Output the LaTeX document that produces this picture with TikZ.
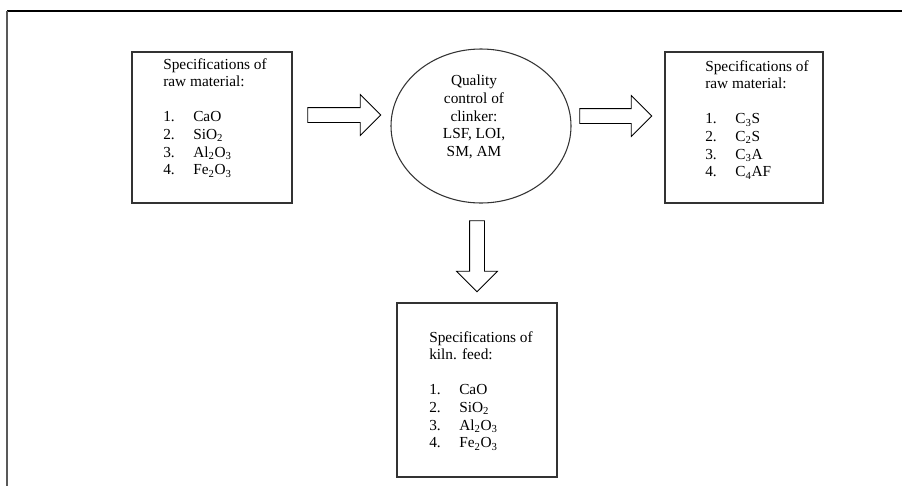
\documentclass[tikz,border=0pt]{standalone}
\usepackage{fontspec}
\setmainfont{Liberation Serif}
\usetikzlibrary{shapes.geometric, shapes.arrows, positioning}
\tikzset{
  specbox/.style={draw=black!80, line width=0.8pt}, % the three boxes
  spectext/.style={anchor=north west, inner sep=0pt, align=left, font=\fontsize{11.5}{13.2}\selectfont}, % text set in a box
  blockarrow/.style={single arrow, draw=black, line width=0.6pt, inner xsep=0pt, inner ysep=5.25pt,
    single arrow head extend=9.75pt, single arrow tip angle=90}, % hollow arrows
}
\newcommand{\specitem}[2]{\makebox[22.5pt][l]{#1}#2}

\begin{document}
\begin{tikzpicture}[x=0.75pt, y=-0.75pt]
    \useasboundingbox (0,0) rectangle (902,486);
    % page frame
    \draw[line width=1.1pt] (7,11) -- (902,11);
    \draw[black!65, line width=1.4pt] (7,11) -- (7,486);

    \node[specbox, minimum width=120pt, minimum height=113.25pt] (raw) at (212,127.5) {};
    \node[specbox, ellipse, minimum width=135pt, minimum height=115.5pt] (qc) at (481,126) {};
    \node[specbox, minimum width=118.5pt, minimum height=113.25pt] (clk) at (744,127.5) {};
    \node[specbox, minimum width=120pt, minimum height=130.5pt] (kiln) at (477,390) {};

    \node[spectext] (rawtext) at (163,58) {Specifications of\\raw material:\\[13.2pt]
      \specitem{1.}{CaO}\\\specitem{2.}{SiO\textsubscript{2}}\\\specitem{3.}{Al\textsubscript{2}O\textsubscript{3}}\\\specitem{4.}{Fe\textsubscript{2}O\textsubscript{3}}};
    \node[spectext, anchor=north, align=center] (qctext) at (474,75) {Quality\\control of\\clinker:\\LSF, LOI,\\SM, AM};
    \node[spectext] (clktext) at (705,60) {Specifications of\\raw material:\\[13.2pt]
      \specitem{1.}{C\textsubscript{3}S}\\\specitem{2.}{C\textsubscript{2}S}\\\specitem{3.}{C\textsubscript{3}A}\\\specitem{4.}{C\textsubscript{4}AF}};
    \node[spectext] (kilntext) at (429,331) {Specifications of\\kiln. feed:\\[13.2pt]
      \specitem{1.}{CaO}\\\specitem{2.}{SiO\textsubscript{2}}\\\specitem{3.}{Al\textsubscript{2}O\textsubscript{3}}\\\specitem{4.}{Fe\textsubscript{2}O\textsubscript{3}}};

    \node[blockarrow, minimum height=54.75pt] (a1) at (340.5,115) {};
    \node[blockarrow, minimum height=54pt] (a2) at (612,116) {};
    \node[blockarrow, minimum height=53.25pt, rotate=-90] (a3) at (477,252.5) {};
\end{tikzpicture}
\end{document}
